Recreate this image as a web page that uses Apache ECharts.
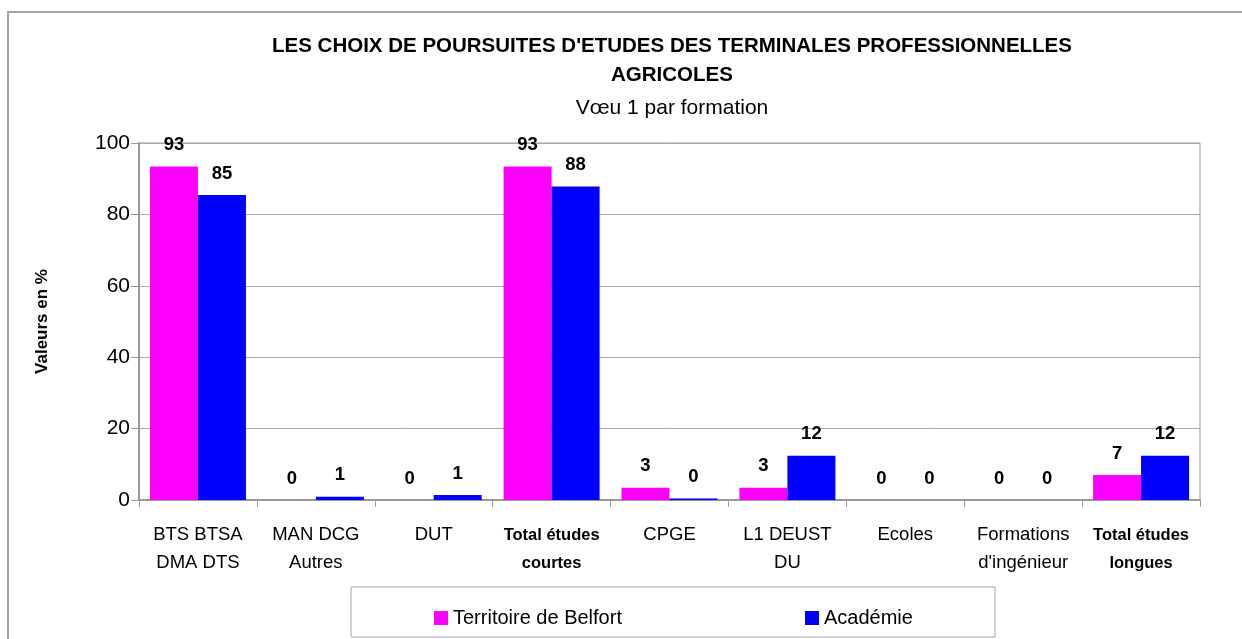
<!DOCTYPE html>
<html>
<head>
<meta charset="utf-8">
<title>Poursuites d'études</title>
<script src="https://cdn.jsdelivr.net/npm/echarts@6/dist/echarts.min.js"></script>
<style>
  html, body { margin: 0; padding: 0; background: #fff; }
  #chart { width: 1242px; height: 639px; }
</style>
</head>
<body>
<div id="chart"></div>
<script>
// Formations (second line of each label after \n)
const categories = [
  'BTS BTSA\nDMA DTS',
  'MAN DCG\nAutres',
  'DUT',
  'Total études\ncourtes',
  'CPGE',
  'L1 DEUST\nDU',
  'Ecoles',
  'Formations\nd\'ingénieur',
  'Total études\nlongues'
];
// Share of first wishes, in %
const belfort  = [93.4, 0, 0, 93.4, 3.4, 3.4, 0, 0, 7.0];
const academie = [85.4, 0.9, 1.4, 87.8, 0.4, 12.4, 0, 0, 12.4];
const yTicks = [0, 20, 40, 60, 80, 100];
const seriesNames = ['Territoire de Belfort', 'Académie'];
const boldCats = ['Total études\ncourtes', 'Total études\nlongues'];

const FONT = 'Liberation Sans, Arial, sans-serif';
const chart = echarts.init(document.getElementById('chart'), null, { renderer: 'canvas' });

const valueLabel = {
  show: true,
  position: 'top',
  distance: 12,
  fontFamily: FONT,
  fontWeight: 'bold',
  fontSize: 18.5,
  color: '#000',
  formatter: p => Math.round(p.value)
};

const legendText = { fontFamily: FONT, fontSize: 20, color: '#000' };

chart.setOption({
  animation: false,
  backgroundColor: '#fff',
  title: [
    {
      text: 'LES CHOIX DE POURSUITES D\'ETUDES DES TERMINALES PROFESSIONNELLES\nAGRICOLES',
      left: 667,
      textAlign: 'center',
      top: 27,
      textStyle: { fontFamily: FONT, fontWeight: 'bold', fontSize: 20.5, lineHeight: 29, color: '#000' }
    },
    {
      text: 'Vœu 1 par formation',
      left: 667,
      textAlign: 'center',
      top: 93,
      textStyle: { fontFamily: FONT, fontWeight: 'normal', fontSize: 21, color: '#000' }
    }
  ],
  graphic: [
    { type: 'rect', shape: { x: 8, y: 12, width: 1260, height: 660 },
      style: { fill: 'none', stroke: '#a6a6a6', lineWidth: 2 }, silent: true },
    { type: 'rect', shape: { x: 351, y: 587, width: 644, height: 50 },
      style: { fill: '#fff', stroke: '#a6a6a6', lineWidth: 1 }, silent: true, z: -1 }
  ],
  legend: [
    {
      data: [seriesNames[0]], left: 429, top: 603, itemWidth: 14, itemHeight: 14, itemGap: 0,
      icon: 'rect', textStyle: legendText
    },
    {
      data: [seriesNames[1]], left: 800, top: 603, itemWidth: 14, itemHeight: 14, itemGap: 0,
      icon: 'rect', textStyle: legendText
    }
  ],
  grid: {
    left: 139, right: 42, top: 143, bottom: 139,
    show: true, borderColor: '#999', borderWidth: 1, backgroundColor: 'transparent'
  },
  xAxis: {
    type: 'category',
    data: categories,
    axisLine: { lineStyle: { color: '#999', width: 2 } },
    axisTick: { show: true, length: 7, lineStyle: { color: '#999' } },
    axisLabel: {
      interval: 0,
      margin: 21,
      fontFamily: FONT,
      fontSize: 18.5,
      lineHeight: 28,
      color: '#000',
      formatter: v => boldCats.includes(v) ? '{b|' + v.split('\n').join('}\n{b|') + '}' : v,
      rich: { b: { fontFamily: FONT, fontWeight: 'bold', fontSize: 16.5, lineHeight: 28, color: '#000' } }
    }
  },
  yAxis: {
    type: 'value',
    min: yTicks[0],
    max: yTicks[yTicks.length - 1],
    interval: yTicks[1] - yTicks[0],
    name: 'Valeurs en %',
    nameLocation: 'middle',
    nameGap: 88,
    nameTextStyle: { fontFamily: FONT, fontWeight: 'bold', fontSize: 17, color: '#000' },
    axisLine: { show: true, lineStyle: { color: '#999', width: 2 } },
    axisTick: { show: true, length: 8, lineStyle: { color: '#999' } },
    axisLabel: { fontFamily: FONT, fontSize: 21, color: '#000', margin: 9 },
    splitLine: { lineStyle: { color: '#aaa', width: 1 } }
  },
  series: [
    {
      name: seriesNames[0], type: 'bar', data: belfort,
      barWidth: 48, barGap: '0%',
      itemStyle: { color: '#ff00ff' },
      label: valueLabel
    },
    {
      name: seriesNames[1], type: 'bar', data: academie,
      barWidth: 48, barGap: '0%',
      itemStyle: { color: '#0000ff' },
      label: valueLabel
    }
  ]
});
</script>
</body>
</html>
